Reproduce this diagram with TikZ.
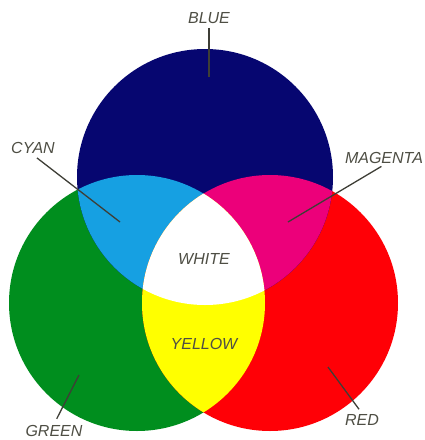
\documentclass[tikz,border=0pt]{standalone}
\usepackage{fontspec}
\setmainfont{Liberation Sans}
\usetikzlibrary{positioning}
\definecolor{navy}{RGB}{6,6,112}
\definecolor{cyanish}{RGB}{22,160,226}
\definecolor{magentaish}{RGB}{236,0,122}
\definecolor{greenish}{RGB}{0,142,30}
\definecolor{redish}{RGB}{255,0,6}
\definecolor{yellowish}{RGB}{255,255,0}
\definecolor{labelgray}{RGB}{78,78,68}
\definecolor{leadergray}{RGB}{62,62,54}
\tikzset{
  colorlabel/.style={
    font=\fontsize{16}{18}\selectfont\itshape,
    text=labelgray,
    inner sep=1pt
  },
  leader/.style={draw=leadergray, line width=1.3pt},
}
\begin{document}
\begin{tikzpicture}[x=1pt, y=-1pt]
\useasboundingbox (0,0) rectangle (425,440);

% the three lights
\coordinate (bluec) at (205,177);
\coordinate (greenc) at (137,303);
\coordinate (redc) at (270,303);
\def\rad{128pt}

\fill[greenish] (greenc) circle[radius=\rad];
\fill[redish] (redc) circle[radius=\rad];
\fill[navy] (bluec) circle[radius=\rad];

% overlaps
\begin{scope}
  \clip (bluec) circle[radius=\rad];
  \fill[cyanish] (greenc) circle[radius=\rad];
  \fill[magentaish] (redc) circle[radius=\rad];
\end{scope}
\begin{scope}
  \clip (greenc) circle[radius=\rad];
  \fill[yellowish] (redc) circle[radius=\rad];
  \clip (redc) circle[radius=\rad];
  \fill[white] (bluec) circle[radius=\rad];
\end{scope}

% labels
\node[colorlabel] (bluelbl) at (209,18) {BLUE};
\node[colorlabel] (cyanlbl) at (33,148) {CYAN};
\node[colorlabel] (magentalbl) at (384,158) {MAGENTA};
\node[colorlabel] (whitelbl) at (204,259) {WHITE};
\node[colorlabel] (yellowlbl) at (204,344) {YELLOW};
\node[colorlabel] (greenlbl) at (54,431) {GREEN};
\node[colorlabel] (redlbl) at (362,420) {RED};

\coordinate (bluept) at (209,77);
\coordinate (cyanpt) at (120,222);
\coordinate (magentapt) at (288,222);
\coordinate (greenpt) at (79,375);
\coordinate (redpt) at (328,367);

\draw[leader, shorten <=3pt] (bluelbl.south) -- (bluept);
\draw[leader, shorten <=5pt] (cyanlbl.south) -- (cyanpt);
\draw[leader, shorten <=3pt] (magentalbl.south) -- (magentapt);
\draw[leader, shorten <=6pt] (greenlbl.north) -- (greenpt);
\draw[leader, shorten <=5pt] (redlbl.north) -- (redpt);
\end{tikzpicture}
\end{document}
